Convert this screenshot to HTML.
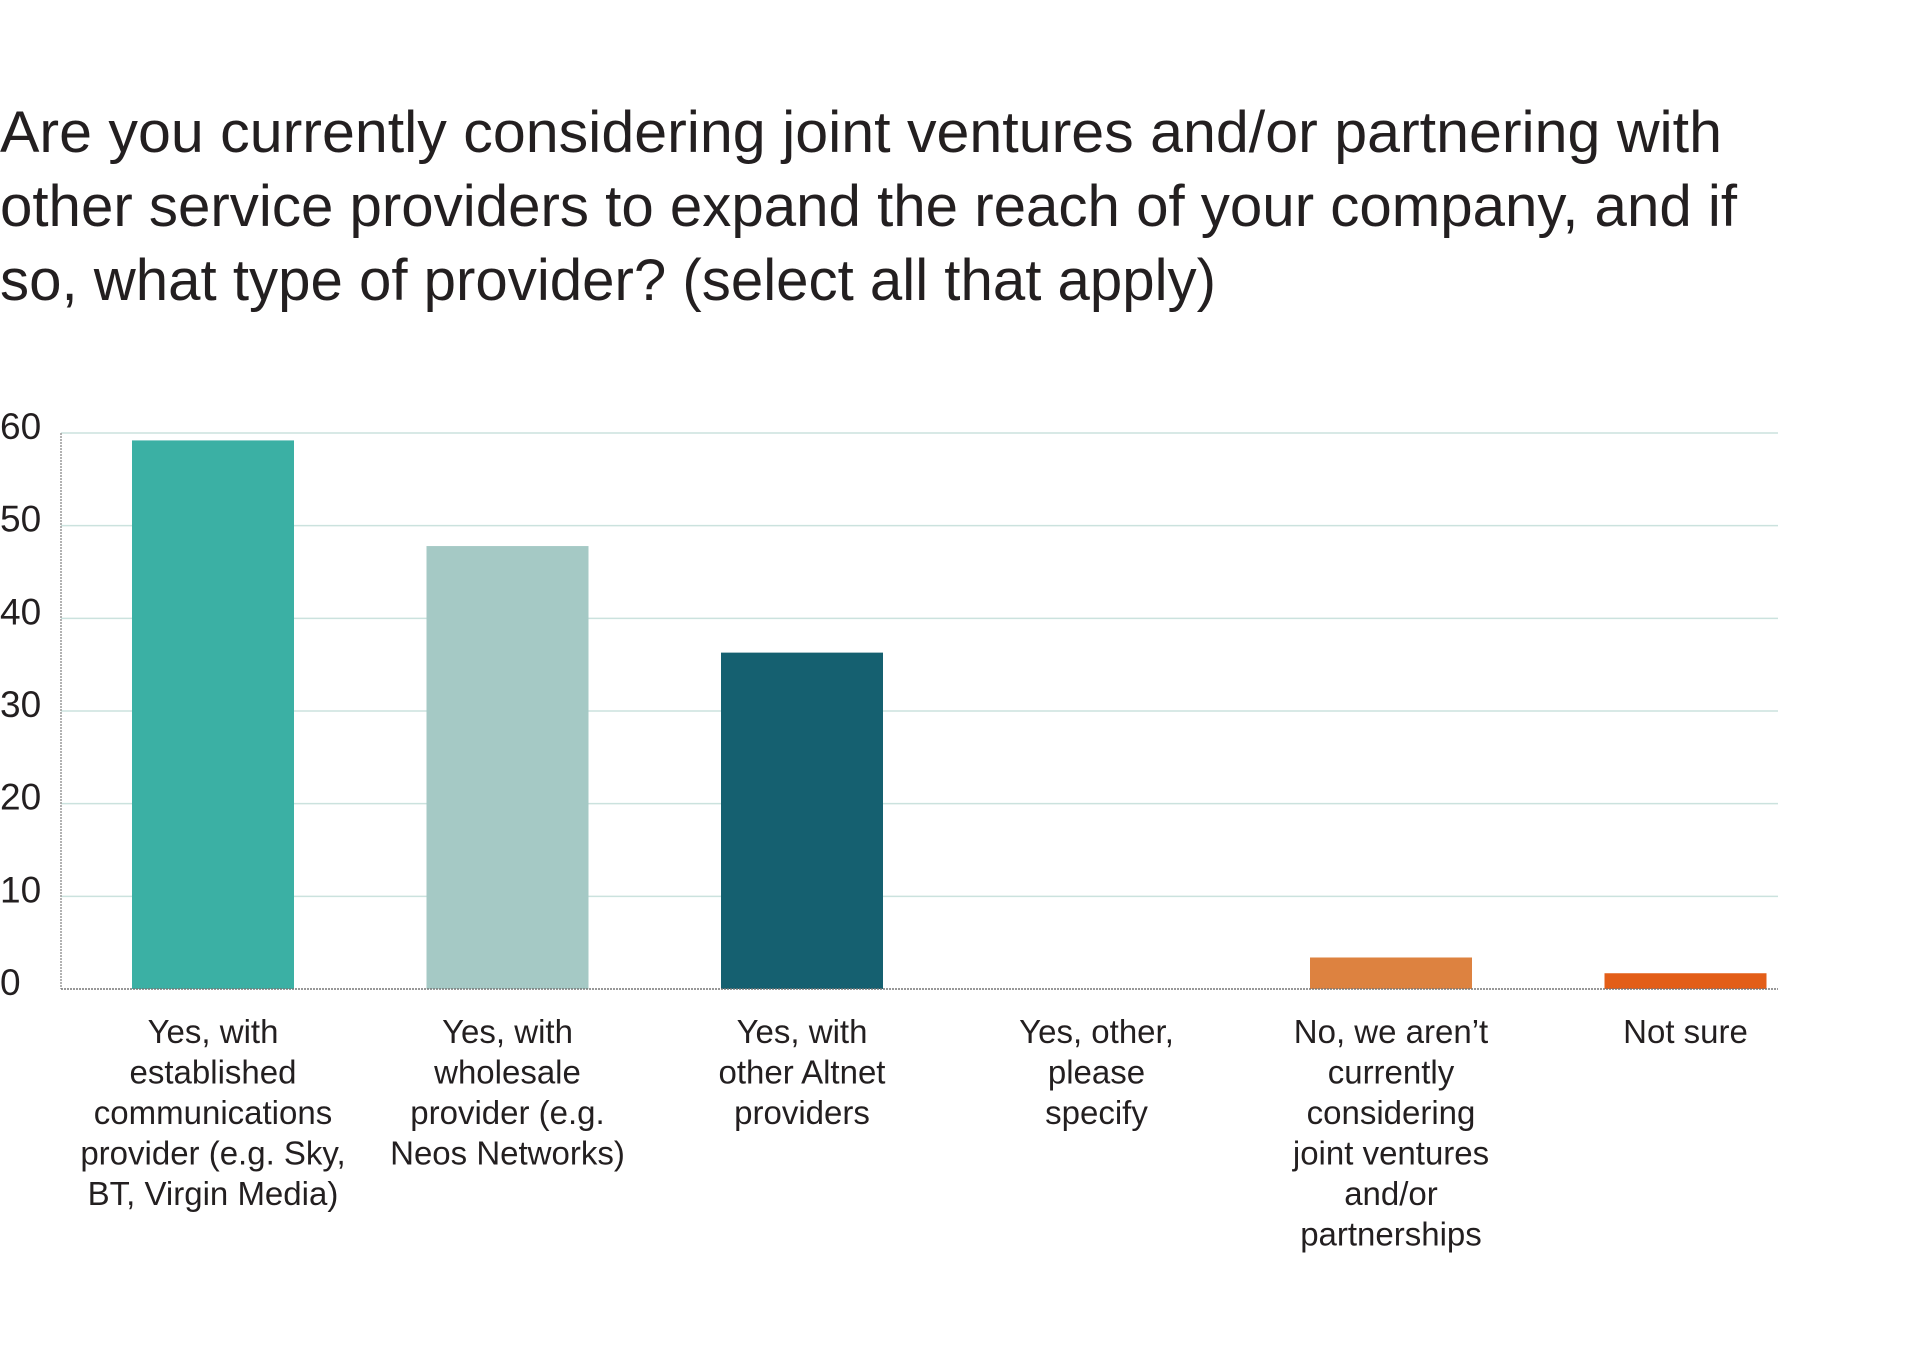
<!DOCTYPE html>
<html><head><meta charset="utf-8"><style>
html,body{margin:0;padding:0;background:#fff;}
svg{display:block;font-family:"Liberation Sans",sans-serif;}
</style></head><body>
<svg width="1920" height="1358" viewBox="0 0 1920 1358">
<g fill="#231f20" font-size="58">
<text x="0" y="152" textLength="1722" lengthAdjust="spacingAndGlyphs">Are you currently considering joint ventures and/or partnering with</text>
<text x="0" y="226" textLength="1737" lengthAdjust="spacingAndGlyphs">other service providers to expand the reach of your company, and if</text>
<text x="0" y="300" textLength="1216" lengthAdjust="spacingAndGlyphs">so, what type of provider? (select all that apply)</text>
</g>
<g id="grid"></g>
<g id="yticks"></g>
<g id="bars"></g>
<g id="xlabels"></g>
<line x1="61" y1="433" x2="61" y2="989" stroke="#999" stroke-width="1.5" stroke-dasharray="2,1"/>
<line x1="61" y1="989" x2="1778" y2="989" stroke="#777" stroke-width="1.5" stroke-dasharray="2,1"/>
</svg>
<script>
const categories=[["Yes, with","established","communications","provider (e.g. Sky,","BT, Virgin Media)"],["Yes, with","wholesale","provider (e.g.","Neos Networks)"],["Yes, with","other Altnet","providers"],["Yes, other,","please","specify"],["No, we aren’t","currently","considering","joint ventures","and/or","partnerships"],["Not sure"]];
const values=[59.2,47.8,36.3,0,3.4,1.7];
const colors=["#3bb0a4","#a5c9c5","#156070","#888888","#dd8240","#e35e18"];
const yTicks=[0,10,20,30,40,50,60];
const NS="http://www.w3.org/2000/svg";
const y0=989,yTop=433,yMax=60;
function yScale(v){return y0-(v/yMax)*(y0-yTop);}
function xCenter(i){return 213+294.5*i;}
const bw=162;
const grid=document.getElementById('grid'),yt=document.getElementById('yticks'),bars=document.getElementById('bars'),xl=document.getElementById('xlabels');
yTicks.forEach(t=>{
 const y=yScale(t);
 if(t>0){const l=document.createElementNS(NS,'line');
 
 
 l.setAttribute('x1',61);l.setAttribute('x2',1778);l.setAttribute('y1',y);l.setAttribute('y2',y);
 l.setAttribute('stroke','#cbe2de');l.setAttribute('stroke-width','1.5');grid.appendChild(l);}
 const tx=document.createElementNS(NS,'text');
 
 
 tx.setAttribute('x',0);tx.setAttribute('y',y+6);tx.setAttribute('font-size','37');tx.setAttribute('fill','#231f20');
 tx.textContent=String(t);yt.appendChild(tx);
});
values.forEach((v,i)=>{
 if(v>0){const r=document.createElementNS(NS,'rect');
 
 
 const y=yScale(v);
 r.setAttribute('x',xCenter(i)-bw/2);r.setAttribute('y',y);r.setAttribute('width',bw);r.setAttribute('height',y0-y);r.setAttribute('fill',colors[i]);
 bars.appendChild(r);}
 const t=document.createElementNS(NS,'text');
 
 
 t.setAttribute('text-anchor','middle');t.setAttribute('font-size','33');t.setAttribute('fill','#231f20');
 categories[i].forEach((line,j)=>{
  const s=document.createElementNS(NS,'tspan');
  s.setAttribute('x',xCenter(i));s.setAttribute('y',1043+j*40.5);s.textContent=line;t.appendChild(s);
 });
 xl.appendChild(t);
});
</script>
</body></html>
